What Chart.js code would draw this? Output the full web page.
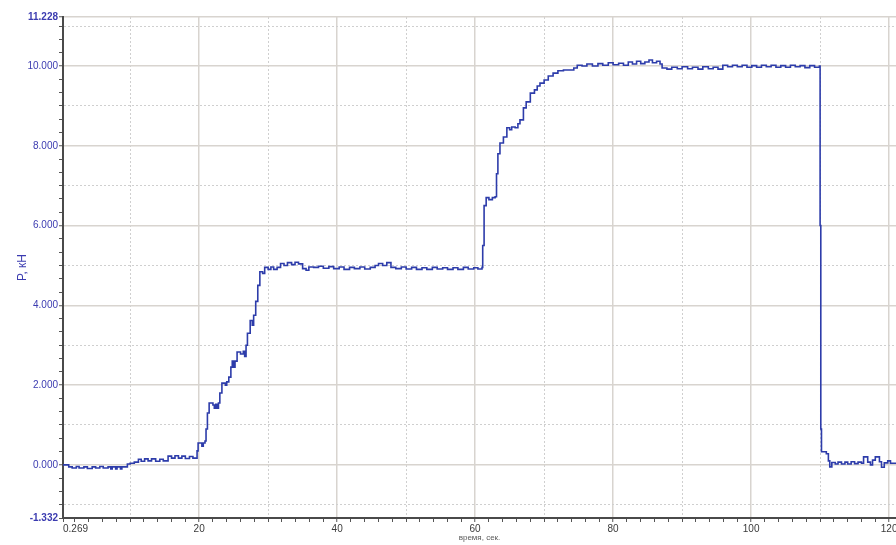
<!DOCTYPE html>
<html>
<head>
<meta charset="utf-8">
<script src="https://cdn.jsdelivr.net/npm/chart.js@4.4.1/dist/chart.umd.min.js"></script>
<style>
  html, body { margin: 0; padding: 0; background: #fff; overflow: hidden; }
  #forceChart { display: block; }
</style>
</head>
<body>
<canvas id="forceChart" width="896" height="545"></canvas>
<script>
// time, s / force, kN, segment by segment
const idleTime = [0.269, 1.1, 1.6, 2.2, 2.6, 3.3, 3.8, 4.5, 5.0, 5.6, 6.1, 6.8, 7.2, 7.4, 7.9, 8.1, 8.6, 8.8, 9.6, 10.0, 10.6,
  11.2, 11.6, 12.1, 12.6, 13.1, 13.7, 14.3, 14.8, 15.5, 16.0, 16.5, 17.0, 17.5, 18.0, 18.6, 19.1];
const idleForce = [0.0, -0.05, -0.08, -0.04, -0.08, -0.05, -0.09, -0.05, -0.08, -0.04, -0.08, -0.05, -0.1, -0.05, -0.1, -0.05, -0.1, -0.05, 0.02, 0.04, 0.07,
  0.14, 0.09, 0.15, 0.1, 0.15, 0.09, 0.14, 0.1, 0.22, 0.17, 0.23, 0.17, 0.22, 0.16, 0.21, 0.17];

const rise1Time = [19.7, 19.85, 20.4, 20.6, 20.85, 21.0, 21.2, 21.45, 22.0, 22.2, 22.4, 22.6, 22.8, 23.0, 23.3, 23.8, 24.0, 24.3, 24.6,
  24.8, 25.0, 25.2, 25.5, 26.0, 26.4, 26.6, 26.8, 27.0, 27.4, 27.7, 27.9, 28.2, 28.5, 28.8, 29.2];
const rise1Force = [0.35, 0.55, 0.47, 0.55, 0.6, 0.9, 1.3, 1.55, 1.5, 1.42, 1.52, 1.42, 1.55, 1.8, 2.05, 2.0, 2.08, 2.2, 2.45,
  2.6, 2.45, 2.6, 2.83, 2.78, 2.85, 2.72, 3.0, 3.3, 3.62, 3.5, 3.75, 4.1, 4.5, 4.84, 4.8];

const hold5Time = [29.5, 30.0, 30.4, 30.8, 31.3, 31.8, 32.3, 32.8, 33.4, 33.9, 34.4, 35.0, 35.5, 35.9, 36.6, 37.3, 38.0, 38.8, 39.5,
  40.3, 41.0, 41.8, 42.5, 43.3, 44.0, 44.8, 45.5, 46.0, 46.6, 47.2, 47.8, 48.5, 49.3, 50.0, 50.8, 51.5, 52.3, 53.0, 53.8,
  54.5, 55.3, 56.0, 56.8, 57.5, 58.3, 59.0, 59.8, 60.4];
const hold5Force = [4.95, 4.9, 4.96, 4.9, 4.95, 5.05, 5.0, 5.07, 5.02, 5.08, 5.04, 4.92, 4.88, 4.96, 4.95, 4.98, 4.93, 4.97, 4.92,
  4.96, 4.9, 4.95, 4.92, 4.96, 4.91, 4.95, 5.0, 5.05, 5.0, 5.07, 4.95, 4.92, 4.96, 4.91, 4.95, 4.9, 4.94, 4.9, 4.95,
  4.91, 4.94, 4.9, 4.94, 4.9, 4.95, 4.91, 4.94, 4.91];

const rise2Time = [61.0, 61.1, 61.3, 61.6, 62.0, 62.5, 62.9, 63.1, 63.3, 63.6, 64.1, 64.6, 65.0, 65.3, 65.8, 66.2, 66.5, 67.0,
  67.4, 68.0, 68.6, 69.0, 69.4, 70.0, 70.6, 71.3, 72.0, 72.8, 73.8, 74.3];
const rise2Force = [4.95, 5.5, 6.5, 6.7, 6.65, 6.7, 6.72, 7.3, 7.8, 8.07, 8.22, 8.45, 8.4, 8.47, 8.45, 8.55, 8.65, 8.95,
  9.1, 9.32, 9.4, 9.5, 9.57, 9.65, 9.75, 9.82, 9.88, 9.9, 9.9, 9.95];

const hold10Time = [74.8, 75.5, 76.2, 77.0, 77.8, 78.5, 79.3, 80.0, 80.8, 81.5, 82.2, 82.8, 83.4, 84.0, 84.6, 85.2, 85.7, 86.3,
  86.8, 87.1, 87.8, 88.5, 89.3, 90.0, 90.8, 91.5, 92.3, 93.0, 93.8, 94.5, 95.2, 95.9, 96.6, 97.3, 98.0, 98.7, 99.4,
  100.1, 100.8, 101.5, 102.2, 102.9, 103.6, 104.3, 105.0, 105.7, 106.4, 107.1, 107.8, 108.5, 109.2, 109.9];
const hold10Force = [10.02, 10.0, 10.05, 10.0, 10.06, 10.02, 10.08, 10.03, 10.07, 10.02, 10.1, 10.05, 10.12, 10.06, 10.1, 10.15, 10.08, 10.12,
  10.05, 9.95, 9.92, 9.97, 9.93, 9.98, 9.93, 9.97, 9.92, 9.98, 9.93, 9.97, 9.92, 10.02, 9.98, 10.02, 9.98, 10.02, 9.97,
  10.01, 9.97, 10.02, 9.98, 10.02, 9.97, 10.01, 9.97, 10.02, 9.98, 10.01, 9.96, 10.01, 9.97, 10.0];

const releaseTime = [110.0, 110.1, 110.2, 110.9, 111.2, 111.4, 111.7, 112.2, 112.6, 113.1, 113.6, 114.0, 114.5, 115.0, 115.5,
  116.0, 116.3, 116.9, 117.3, 117.6, 118.0, 118.6, 118.9, 119.3, 119.8, 120.2, 121.0];
const releaseForce = [6.0, 0.9, 0.33, 0.28, 0.1, -0.05, 0.06, 0.02, 0.07, 0.02, 0.07, 0.02, 0.08, 0.03, 0.07,
  0.04, 0.2, 0.07, 0.0, 0.12, 0.2, 0.08, -0.06, 0.05, 0.1, 0.04, 0.04];

// labelled ticks
const xTickLabels = [0.269, 20, 40, 60, 80, 100, 120];
const yTickLabels = [-1.332, 0, 2, 4, 6, 8, 10, 11.228];

const xMin = 0.269, xMax = 121.0;
const yMin = -1.332, yMax = 11.228;

const timeSec = [].concat(idleTime, rise1Time, hold5Time, rise2Time, hold10Time, releaseTime);
const forceKN = [].concat(idleForce, rise1Force, hold5Force, rise2Force, hold10Force, releaseForce);
const points = timeSec.map(function (t, i) { return { x: t, y: forceKN[i] }; });

const FONT = '"Liberation Sans", Arial, sans-serif';
const GRID_SOLID = '#d8d4cf';
const GRID_DOT = '#cfcfcf';

// minor ticks: x every 2 s, y every 1/3 kN
function xTicks(scale) {
  const list = [{ value: xMin }];
  for (let v = 2; v <= 120; v += 2) list.push({ value: v });
  list.push({ value: xMax });
  scale.ticks = list;
}

function yTicks(scale) {
  const list = [{ value: yMin }];
  for (let k = -3; k <= 33; k++) list.push({ value: k / 3 });
  list.push({ value: yMax });
  scale.ticks = list;
}

// grid kind for a tick value: 'solid', 'dot' or null
function xGridKind(v) {
  if (v === xMin || v === xMax) return null;
  if (v % 20 === 0) return 'solid';
  if (v % 10 === 0) return 'dot';
  return null;
}
function yGridKind(v) {
  if (v === yMin) return null;
  if (v === yMax) return 'solid';
  if (!Number.isInteger(v)) return null;
  return Math.abs(v) % 2 === 0 ? 'solid' : 'dot';
}

function gridOpts(kindFn) {
  return {
    color: function (c) {
      if (!c.tick) return 'transparent';
      const k = kindFn(c.tick.value);
      return k === 'solid' ? GRID_SOLID : k === 'dot' ? GRID_DOT : 'transparent';
    },
    lineWidth: function (c) {
      if (!c.tick) return 1;
      return kindFn(c.tick.value) === 'solid' ? 1.5 : 1;
    },
    tickColor: '#555',
    tickLength: 4,
    tickWidth: 1
  };
}

function borderOpts(kindFn) {
  return {
    color: '#4a4a4a',
    width: 2,
    dash: function (c) {
      if (!c.tick) return [];
      return kindFn(c.tick.value) === 'dot' ? [2, 2] : [];
    }
  };
}

new Chart(document.getElementById('forceChart'), {
  type: 'line',
  data: {
    datasets: [{
      data: points,
      borderColor: '#2d3caa',
      borderWidth: 1.6,
      pointRadius: 0,
      stepped: true,
      fill: false
    }]
  },
  options: {
    responsive: false,
    animation: false,
    layout: { padding: { top: 17, right: 0, left: 0, bottom: 0 } },
    plugins: { legend: { display: false }, tooltip: { enabled: false } },
    scales: {
      x: {
        type: 'linear',
        min: xMin,
        max: xMax,
        afterBuildTicks: xTicks,
        afterFit: function (s) { s.height = 27; s.paddingLeft = 0; s.paddingRight = 0; },
        grid: gridOpts(xGridKind),
        border: borderOpts(xGridKind),
        ticks: {
          autoSkip: false,
          maxRotation: 0,
          align: 'inner',
          padding: 1,
          color: '#3a3a3a',
          font: { family: FONT, size: 10 },
          callback: function (v) {
            if (v === xMin) return '0.269';
            return xTickLabels.indexOf(v) >= 0 ? String(v) : '';
          }
        },
        title: {
          display: true,
          text: 'время, сек.',
          color: '#5a5a5a',
          font: { family: FONT, size: 8 },
          padding: { top: 0, bottom: 2 }
        }
      },
      y: {
        type: 'linear',
        min: yMin,
        max: yMax,
        afterBuildTicks: yTicks,
        afterFit: function (s) { s.width = 63; s.paddingTop = 0; s.paddingBottom = 0; },
        grid: gridOpts(yGridKind),
        border: borderOpts(yGridKind),
        ticks: {
          autoSkip: false,
          padding: 1,
          color: '#3b3bb0',
          font: function (c) {
            const v = c.tick ? c.tick.value : 0;
            return { family: FONT, size: 10, weight: (v === yMin || v === yMax) ? 'bold' : 'normal' };
          },
          callback: function (v) {
            return yTickLabels.indexOf(v) >= 0 ? v.toFixed(3) : '';
          }
        },
        title: {
          display: true,
          text: 'P, кН',
          color: '#3b3bb0',
          font: { family: FONT, size: 12 },
          padding: { top: 15, bottom: 0 }
        }
      }
    }
  }
});
</script>
</body>
</html>
